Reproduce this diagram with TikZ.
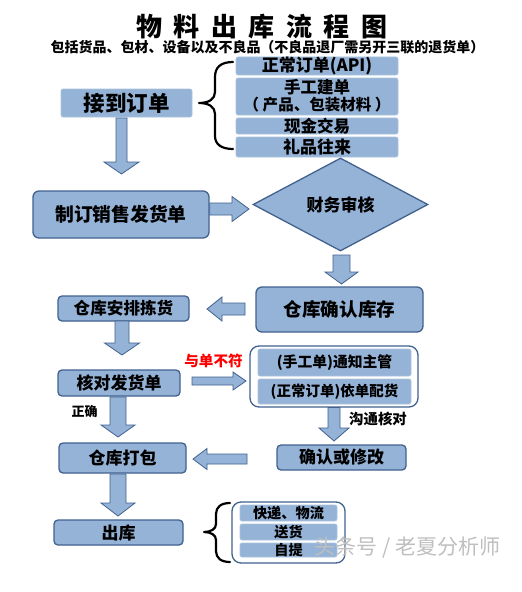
\documentclass[tikz,border=0pt]{standalone}
\usepackage{fontspec}
\setmainfont{Noto Sans CJK SC}
\usetikzlibrary{calc,shapes.geometric}
\definecolor{boxfill}{HTML}{95B3D7}
\definecolor{boxline}{HTML}{41618F}
\newcommand\fs[1]{\fontsize{#1}{#1}\selectfont\bfseries}
\tikzset{
  plainbox/.style={fill=boxfill, draw=boxfill!80!white, line width=0.6pt, rounded corners=2pt, inner sep=0pt, align=center},
  edgebox/.style={fill=boxfill, draw=boxline, line width=1.3pt, rounded corners=6pt, inner sep=0pt, align=center},
  groupbox/.style={fill=white, draw=boxline, line width=1.3pt, rounded corners=9pt, inner sep=0pt},
  blockarrow/.style n args={3}{fill=boxfill, draw=boxline, line width=0.8pt, line join=miter,
    to path={
      ($(\tikztotarget)!#3!(\tikztostart)$) coordinate (bH)
      ($(\tikztostart)!#1!90:(\tikztotarget)$) -- ($(bH)!#1!90:(\tikztotarget)$) -- ($(bH)!#2!90:(\tikztotarget)$)
      -- (\tikztotarget) -- ($(bH)!#2!-90:(\tikztotarget)$) -- ($(bH)!#1!-90:(\tikztotarget)$)
      -- ($(\tikztostart)!#1!-90:(\tikztotarget)$) -- cycle}},
  bracepath/.style={line width=2.2pt, line cap=round, line join=round}
}
\begin{document}
\begin{tikzpicture}[x=1pt,y=-1pt]
\useasboundingbox[fill=white] (0,0) rectangle (522,592);
% titles
\node[font=\fs{26}] (title) at (262,27) {物\hspace{11.5pt}料\hspace{11.5pt}出\hspace{11.5pt}库\hspace{11.5pt}流\hspace{11.5pt}程\hspace{11.5pt}图};
\node[font=\fs{14}] (sub) at (267.5,47) {包括货品、包材、设备以及不良品（不良品退厂需另开三联的退货单）};
% top
\node[plainbox, minimum width=131pt, minimum height=28pt, font=\fs{21.5}] (recv) at (126.5,103) {接到订单};
\node[plainbox, minimum width=162pt, minimum height=18pt, font=\fs{17}] (o1) at (317,66) {正常订单(API)};
\node[plainbox, minimum width=162pt, minimum height=37pt] (o2) at (317,96.5) {};
\node[font=\fs{16.5}] (o2a) at (317,87.5) {手工建单};
\node[font=\fs{15.5}] (o2b) at (317,105) {（ 产品、包装材料 ）};
\node[plainbox, minimum width=162pt, minimum height=16pt, font=\fs{16.5}] (o3) at (317,126) {现金交易};
\node[plainbox, minimum width=162pt, minimum height=20pt, font=\fs{17}] (o4) at (317,147) {礼品往来};
\draw[bracepath] (233,62) .. controls (221,62) and (215,67) .. (215,77) -- (215,92)
  .. controls (215,99) and (209,103) .. (199,103) .. controls (209,103) and (215,107) .. (215,114)
  -- (215,136) .. controls (215,144) and (221,149) .. (233,149);
% middle
\node[edgebox, minimum width=176pt, minimum height=47pt, font=\fs{18.8}] (make) at (121,214.5) {制订销售发货单};
\node[diamond, fill=boxfill, draw=boxline, line width=1.3pt, inner sep=0pt, minimum width=175pt, minimum height=93pt, font=\fs{17}] (audit) at (340.5,204.5) {财务审核};
\node[edgebox, minimum width=167pt, minimum height=45pt, font=\fs{18.6}] (stock) at (339.5,309.5) {仓库确认库存};
\node[edgebox, rounded corners=4pt, minimum width=131pt, minimum height=25pt, font=\fs{16.6}] (pick) at (123.5,308.5) {仓库安排拣货};
\node[edgebox, rounded corners=4pt, minimum width=122pt, minimum height=26pt, font=\fs{17}] (check) at (119,383) {核对发货单};
\node[groupbox, minimum width=168pt, minimum height=61pt] (grp1) at (334,376.5) {};
\node[plainbox, minimum width=153pt, minimum height=27pt, font=\fs{14.8}] (n1) at (334.5,362.5) {(手工单)通知主管};
\node[plainbox, minimum width=153pt, minimum height=25pt, font=\fs{14.5}] (n2) at (334.5,391.5) {(正常订单)依单配货};
\node[edgebox, rounded corners=4pt, minimum width=127pt, minimum height=30pt, font=\fs{17}] (pack) at (122.5,458) {仓库打包};
\node[edgebox, rounded corners=4pt, minimum width=129pt, minimum height=25pt, font=\fs{17}] (modify) at (341.5,457.5) {确认或修改};
\node[edgebox, rounded corners=4pt, minimum width=129pt, minimum height=25pt, font=\fs{17}] (out) at (118.5,532.5) {出库};
\node[groupbox, minimum width=113pt, minimum height=61pt] (grp2) at (288.5,532.5) {};
\node[plainbox, minimum width=97pt, minimum height=16pt, font=\fs{14.2}] (s1) at (288.5,513) {快递、物流};
\node[plainbox, minimum width=97pt, minimum height=16pt, font=\fs{14.2}] (s2) at (288.5,532) {送货};
\node[plainbox, minimum width=97pt, minimum height=14pt, font=\fs{14.2}] (s3) at (288.5,550) {自提};
\draw[bracepath] (230,503) .. controls (221,503) and (216,507) .. (216,514) -- (216,524)
  .. controls (216,529) and (211,532) .. (204,532) .. controls (211,532) and (216,535) .. (216,540)
  -- (216,551) .. controls (216,558) and (221,562) .. (230,562);
% labels
\node[font=\fs{14.6}, text=red] (mis) at (213.5,361) {与单不符};
\node[font=\fs{14.4}] (comm) at (378,419) {沟通核对};
\node[font=\fs{13}] (ok) at (84.5,412) {正确};
\node[font=\fontsize{21}{21}\selectfont, text=gray!50] (wm) at (407.5,548) {头条号 / 老夏分析师};
% block arrows
\coordinate (a1s) at (121.5,118); \coordinate (a1e) at (121.5,174);
\path[blockarrow={5.5pt}{17.5pt}{12pt}] (a1s) to (a1e);
\path[blockarrow={6pt}{12.5pt}{17pt}] (make.east |- 0,209) to (249,209);
\coordinate (a3s) at (341.5,255); \coordinate (a3e) at (341.5,284);
\path[blockarrow={8.5pt}{16.5pt}{12pt}] (a3s) to (a3e);
\coordinate (a4s) at (245,309); \coordinate (a4e) at (207,309);
\path[blockarrow={6pt}{12pt}{15pt}] (a4s) to (a4e);
\coordinate (a5s) at (122,321); \coordinate (a5e) at (122,355);
\path[blockarrow={7pt}{17.5pt}{12pt}] (a5s) to (a5e);
\coordinate (a6s) at (192,381); \coordinate (a6e) at (246,381);
\path[blockarrow={4pt}{9pt}{13pt}] (a6s) to (a6e);
\coordinate (a7s) at (334,407.5); \coordinate (a7e) at (334,441);
\path[blockarrow={6pt}{15pt}{13pt}] (a7s) to (a7e);
\coordinate (a8s) at (118,397); \coordinate (a8e) at (118,437);
\path[blockarrow={8pt}{17pt}{12pt}] (a8s) to (a8e);
\coordinate (a9s) at (247,459); \coordinate (a9e) at (193,459);
\path[blockarrow={5pt}{10.5pt}{14pt}] (a9s) to (a9e);
\coordinate (a10s) at (118,474); \coordinate (a10e) at (118,516);
\path[blockarrow={8pt}{17pt}{13pt}] (a10s) to (a10e);
\end{tikzpicture}
\end{document}
